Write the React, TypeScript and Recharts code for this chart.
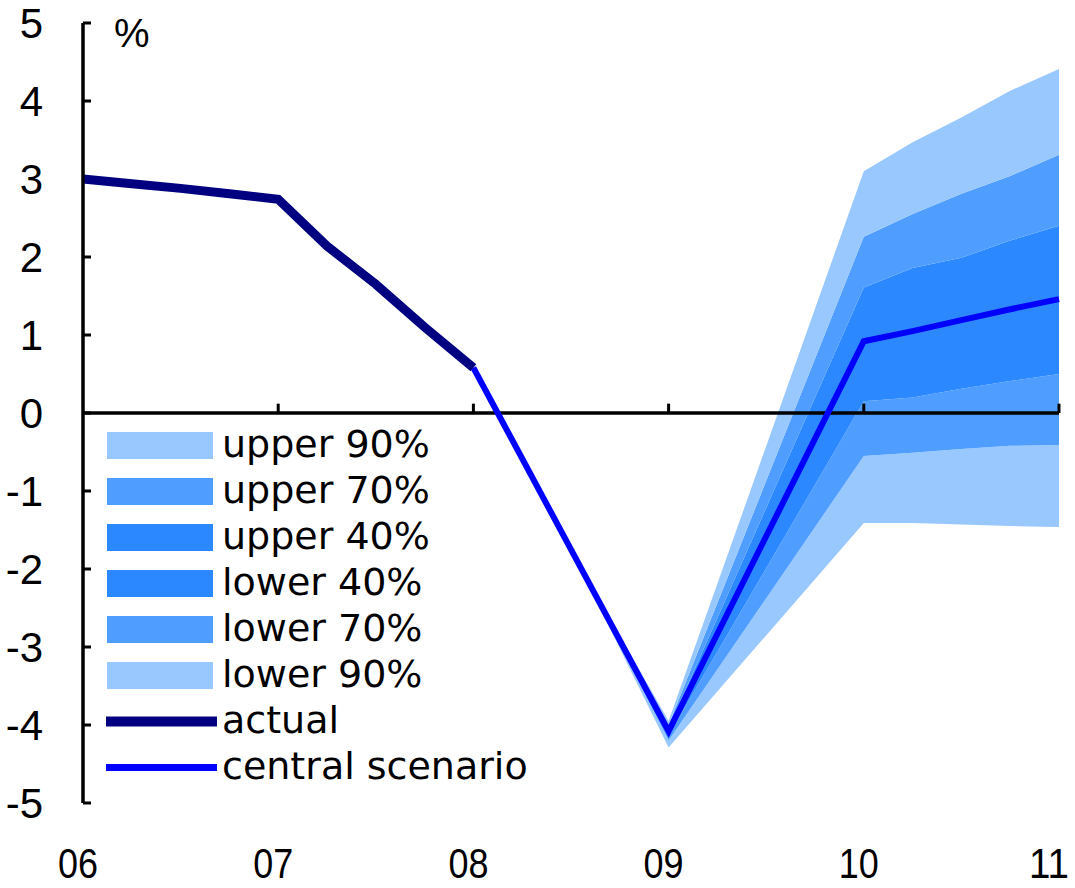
import React from 'react'
import { ComposedChart, XAxis, YAxis, Line, Area, ReferenceLine } from 'recharts'

// actual growth, quarterly
const actualX = [2006, 2006.25, 2006.5, 2006.75, 2007, 2007.25, 2007.5, 2007.75, 2008]
const actualValues = [3.0, 2.94, 2.88, 2.81, 2.74, 2.14, 1.65, 1.1, 0.58]

// central scenario
const centralX = [2008, 2009, 2010, 2010.25, 2010.5, 2010.75, 2011]
const centralValues = [0.58, -4.08, 0.92, 1.05, 1.19, 1.33, 1.46]

// fan chart bounds
const fanX = [2008.5, 2009, 2010, 2010.25, 2010.5, 2010.75, 2011]
const fanMid = [-1.75, -4.08, 0.92, 1.05, 1.19, 1.33, 1.46]
const upper90 = [-1.75, -3.95, 3.1, 3.47, 3.79, 4.13, 4.41]
const upper70 = [-1.75, -4.0, 2.26, 2.55, 2.81, 3.04, 3.31]
const upper40 = [-1.75, -4.04, 1.61, 1.86, 1.99, 2.21, 2.4]
const lower40 = [-1.75, -4.13, 0.15, 0.2, 0.31, 0.41, 0.5]
const lower70 = [-1.75, -4.2, -0.55, -0.51, -0.46, -0.42, -0.41]
const lower90 = [-1.75, -4.29, -1.41, -1.41, -1.43, -1.45, -1.46]

const xTicks = [2006, 2007, 2008, 2009, 2010, 2011]
const xTickLabels = ['06', '07', '08', '09', '10', '11']
const yTicks = [-5, -4, -3, -2, -1, 0, 1, 2, 3, 4, 5]

const LIGHT = '#99C8FF'
const MID = '#4F9DFF'
const DARK = '#2B88FF'

const legendItems = [
    { label: 'upper 90%', color: LIGHT, kind: 'box' },
    { label: 'upper 70%', color: MID, kind: 'box' },
    { label: 'upper 40%', color: DARK, kind: 'box' },
    { label: 'lower 40%', color: DARK, kind: 'box' },
    { label: 'lower 70%', color: MID, kind: 'box' },
    { label: 'lower 90%', color: LIGHT, kind: 'box' },
    { label: 'actual', color: '#000080', kind: 'line' },
    { label: 'central scenario', color: '#0000FF', kind: 'line' },
]

const allX = Array.from(new Set([...actualX, ...centralX, ...fanX])).sort((a, b) => a - b)

const data = allX.map((x) => {
    const row: any = { x }
    const a = actualX.indexOf(x)
    if (a >= 0) row.actual = actualValues[a]
    const c = centralX.indexOf(x)
    if (c >= 0) row.central = centralValues[c]
    const f = fanX.indexOf(x)
    if (f >= 0) {
        row.b90lo = [lower90[f], lower70[f]]
        row.b70lo = [lower70[f], lower40[f]]
        row.b40lo = [lower40[f], fanMid[f]]
        row.b40up = [fanMid[f], upper40[f]]
        row.b70up = [upper40[f], upper70[f]]
        row.b90up = [upper70[f], upper90[f]]
    }
    return row
})

const bands = [
    { key: 'b90lo', color: LIGHT },
    { key: 'b70lo', color: MID },
    { key: 'b40lo', color: DARK },
    { key: 'b40up', color: DARK },
    { key: 'b70up', color: MID },
    { key: 'b90up', color: LIGHT },
]

function XTick(props: any) {
    const i = xTicks.indexOf(props.payload.value)
    // keep the last label inside the picture
    const cx = Math.min(props.x - 5, 1075 - 26)
    return (
        <text
            x={cx}
            y={props.y + 75}
            textAnchor="middle"
            fontFamily="Liberation Sans, Arial, sans-serif"
            fontSize={42}
            textLength={40}
            lengthAdjust="spacingAndGlyphs"
            fill="#000"
        >
            {xTickLabels[i]}
        </text>
    )
}

function YTick(props: any) {
    return (
        <text
            x={props.x}
            y={props.y + 15}
            textAnchor="end"
            fontFamily="Liberation Sans, Arial, sans-serif"
            fontSize={42}
            fill="#000"
        >
            {props.payload.value}
        </text>
    )
}

function FanLegend() {
    return (
        <svg width={1075} height={888} style={{ position: 'absolute', left: 0, top: 0, pointerEvents: 'none' }}>
            <text x={114} y={47} fontFamily="Liberation Sans, Arial, sans-serif" fontSize={40} fill="#000">%</text>
            {legendItems.map((item, i) => {
                const cy = 445.5 + i * 46
                return (
                    <g key={item.label}>
                        {item.kind === 'box' ? (
                            <rect x={107} y={cy - 13.5} width={106} height={27} fill={item.color} />
                        ) : (
                            <line
                                x1={106}
                                x2={217}
                                y1={cy}
                                y2={cy}
                                stroke={item.color}
                                strokeWidth={item.label === 'actual' ? 10 : 7}
                            />
                        )}
                        <text
                            x={222}
                            y={cy + 11.5}
                            fontFamily="DejaVu Sans, sans-serif"
                            fontSize={38}
                            fill="#000"
                        >
                            {item.label}
                        </text>
                    </g>
                )
            })}
        </svg>
    )
}

export default function App() {
    const tickLen = 8 / 195
    return (
        <div style={{ position: 'absolute', left: 0, top: 0, width: 1075, height: 888, background: '#fff' }}>
            <ComposedChart
                width={1075}
                height={888}
                data={data}
                margin={{ top: 23, right: 16, bottom: 25, left: 23 }}
            >
                <XAxis
                    dataKey="x"
                    type="number"
                    domain={[2006, 2011]}
                    ticks={xTicks}
                    axisLine={false}
                    tickLine={false}
                    tickSize={0}
                    tickMargin={0}
                    height={60}
                    tick={<XTick />}
                    interval={0}
                />
                <YAxis
                    type="number"
                    domain={[-5, 5]}
                    ticks={yTicks}
                    width={60}
                    axisLine={{ stroke: '#000', strokeWidth: 3.5 }}
                    tickLine={false}
                    tickSize={0}
                    tickMargin={40}
                    tick={<YTick />}
                    interval={0}
                />
                {bands.map((b) => (
                    <Area
                        key={b.key}
                        dataKey={b.key}
                        type="linear"
                        stroke="none"
                        fill={b.color}
                        fillOpacity={1}
                        connectNulls
                        isAnimationActive={false}
                        activeDot={false}
                    />
                ))}
                <ReferenceLine y={0} stroke="#000" strokeWidth={3.5} />
                {xTicks.slice(1).map((t) => (
                    <ReferenceLine
                        key={'xt' + t}
                        segment={[{ x: t, y: 0 }, { x: t, y: 0.12 }]}
                        stroke="#000"
                        strokeWidth={3}
                    />
                ))}
                {yTicks.map((t) => (
                    <ReferenceLine
                        key={'yt' + t}
                        segment={[{ x: 2006, y: t }, { x: 2006 + tickLen, y: t }]}
                        stroke="#000"
                        strokeWidth={3}
                    />
                ))}
                <Line
                    dataKey="central"
                    type="linear"
                    stroke="#0000FF"
                    strokeWidth={6}
                    dot={false}
                    activeDot={false}
                    connectNulls
                    isAnimationActive={false}
                />
                <Line
                    dataKey="actual"
                    type="linear"
                    stroke="#000080"
                    strokeWidth={9}
                    dot={false}
                    activeDot={false}
                    isAnimationActive={false}
                />
            </ComposedChart>
            <FanLegend />
        </div>
    )
}
